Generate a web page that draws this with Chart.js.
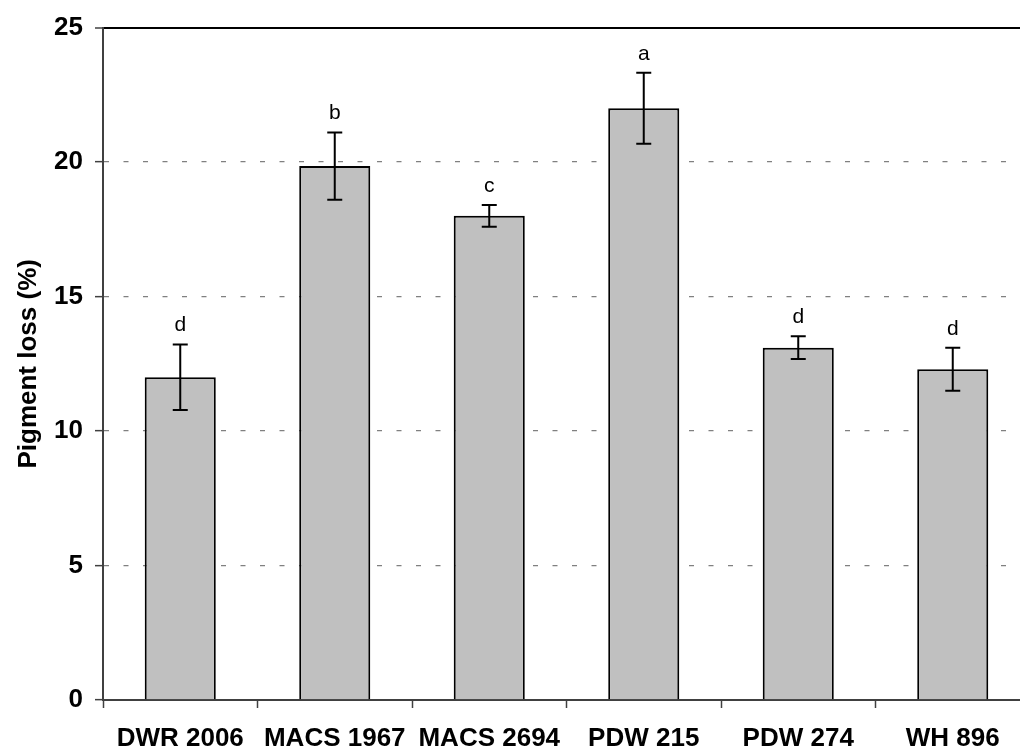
<!DOCTYPE html>
<html>
<head>
<meta charset="utf-8">
<script src="https://cdn.jsdelivr.net/npm/chart.js@4/dist/chart.umd.min.js"></script>
<style>
  html, body { margin: 0; padding: 0; background: #fff; overflow: hidden; }
</style>
</head>
<body>
<canvas id="bar-chart" width="1040" height="751"></canvas>
<script>
const categories = ["DWR 2006", "MACS 1967", "MACS 2694", "PDW 215", "PDW 274", "WH 896"];
const pigmentLoss = [12.0, 19.85, 18.0, 22.0, 13.1, 12.3];
const stdErr = [1.22, 1.25, 0.4, 1.32, 0.42, 0.8];
const groupLetters = ["d", "b", "c", "a", "d", "d"];
const yTicks = [0, 5, 10, 15, 20, 25];

const FONT = "'Liberation Sans', Arial, sans-serif";

// error bars + significance letters, positioned from the y scale
const errorBars = {
  id: "errorBars",
  afterDatasetsDraw(chart) {
    const ctx = chart.ctx;
    const y = chart.scales.y;
    const meta = chart.getDatasetMeta(0);
    ctx.save();
    ctx.strokeStyle = "#000";
    ctx.lineWidth = 2;
    ctx.fillStyle = "#000";
    ctx.font = "21px " + FONT;
    ctx.textAlign = "center";
    ctx.textBaseline = "alphabetic";
    meta.data.forEach((bar, i) => {
      const top = y.getPixelForValue(pigmentLoss[i] + stdErr[i]);
      const bot = y.getPixelForValue(pigmentLoss[i] - stdErr[i]);
      ctx.beginPath();
      ctx.moveTo(bar.x, top);
      ctx.lineTo(bar.x, bot);
      ctx.moveTo(bar.x - 7.5, top);
      ctx.lineTo(bar.x + 7.5, top);
      ctx.moveTo(bar.x - 7.5, bot);
      ctx.lineTo(bar.x + 7.5, bot);
      ctx.stroke();
      ctx.fillText(groupLetters[i], bar.x, top - 13);
    });
    ctx.restore();
  }
};

new Chart(document.getElementById("bar-chart"), {
  type: "bar",
  data: {
    labels: categories,
    datasets: [{
      data: pigmentLoss,
      backgroundColor: "#c0c0c0",
      borderColor: "#000",
      borderWidth: 2,
      barPercentage: 0.46,
      categoryPercentage: 1
    }]
  },
  options: {
    responsive: false,
    animation: false,
    layout: { padding: { top: 24, right: 10, left: 0, bottom: 0 } },
    plugins: {
      legend: { display: false },
      tooltip: { enabled: false }
    },
    scales: {
      x: {
        offset: true,
        afterFit(scale) { scale.height = 51; },
        grid: {
          offset: true,
          drawOnChartArea: false,
          tickLength: 8,
          tickColor: "#404040",
          tickWidth: 1.5
        },
        border: { color: "#404040", width: 2 },
        ticks: {
          color: "#000",
          padding: 15,
          maxRotation: 0,
          autoSkip: false,
          font: { family: FONT, size: 26, weight: "bold" }
        }
      },
      y: {
        min: 0,
        max: 25,
        afterFit(scale) { scale.width = 103; },
        afterBuildTicks(scale) { scale.ticks = yTicks.map(v => ({ value: v })); },
        grid: {
          color: c => c.tick && c.tick.value === 25 ? "#000" : "#808080",
          lineWidth: c => c.tick && c.tick.value === 25 ? 2 : 1.3,
          tickLength: 8,
          tickColor: "#404040",
          tickWidth: 1.5,
          tickBorderDash: []
        },
        border: {
          color: "#404040",
          width: 2,
          dash: c => (c.type === "tick" && c.tick.value !== 25) ? [5, 14.5] : []
        },
        ticks: {
          color: "#000",
          padding: 12,
          font: { family: FONT, size: 26, weight: "bold" }
        },
        title: {
          display: true,
          text: "Pigment loss (%)",
          color: "#000",
          padding: { top: 13, bottom: 0 },
          font: { family: FONT, size: 26, weight: "bold" }
        }
      }
    }
  },
  plugins: [errorBars]
});
</script>
</body>
</html>
